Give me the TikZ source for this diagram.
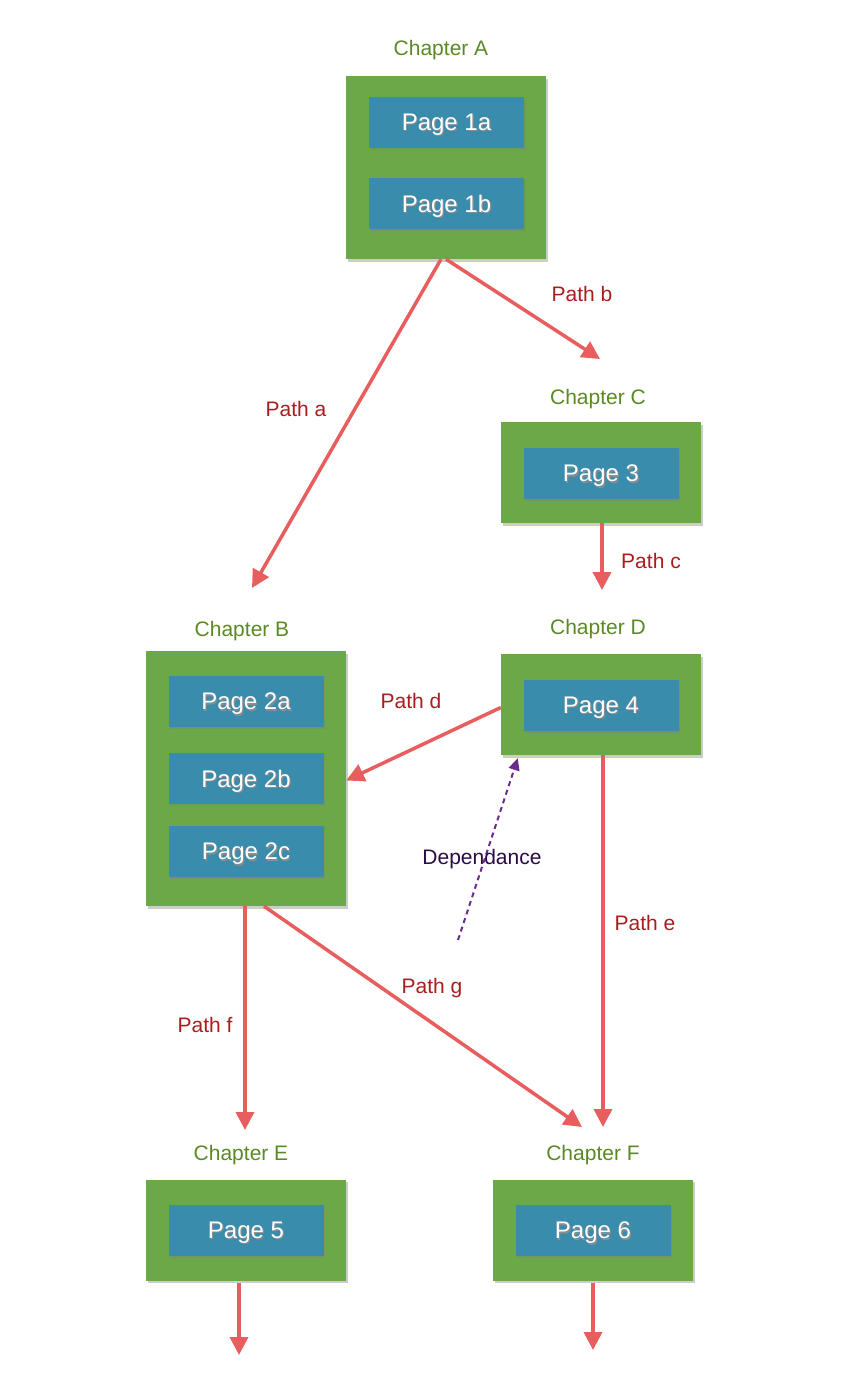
\documentclass[tikz,border=0pt]{standalone}
\usepackage{fontspec}
\setmainfont{Liberation Sans}
\usetikzlibrary{arrows.meta,shadows,calc}
\definecolor{chgreen}{HTML}{6BA847}
\definecolor{pgblue}{HTML}{3A8CAD}
\definecolor{lblgreen}{HTML}{5A8A24}
\definecolor{arrred}{HTML}{E85D5D}
\definecolor{pathred}{HTML}{A81E1E}
\definecolor{deppurple}{HTML}{6A2C8C}
\definecolor{deptext}{HTML}{2A0A45}
\newcommand{\shtext}[1]{\makebox[0pt][l]{\raisebox{-1.2pt}{\hspace{1.2pt}\color{black!45}#1}}#1}
\begin{document}
\begin{tikzpicture}[x=1pt,y=-1pt,
  chapbox/.style={fill=chgreen,draw=none,inner sep=0,minimum width=200pt,
    drop shadow={shadow xshift=2pt,shadow yshift=-2.5pt,opacity=0.4}},
  pagebox/.style={fill=pgblue,draw=none,inner sep=0,minimum width=155pt,minimum height=51pt,
    text=white,font=\fontsize{24}{24}\selectfont,text depth=0pt,
    drop shadow={shadow xshift=1.5pt,shadow yshift=-2pt,opacity=0.4}},
  chaplabel/.style={text=lblgreen,font=\fontsize{21}{21}\selectfont,inner sep=0},
  pathlabel/.style={text=pathred,font=\fontsize{21}{21}\selectfont,inner sep=0},
  flow/.style={draw=arrred,line width=3.5pt,-{Triangle[length=18pt,width=18pt]}},
  dep/.style={draw=deppurple,line width=2pt,dash pattern=on 5pt off 4pt,-{Triangle[length=12pt,width=11pt]}}]
\useasboundingbox (0,0) rectangle (858,1374);

% Chapter A
\node[chaplabel] (labA) at (441,50) {Chapter A};
\node[chapbox,minimum height=183pt] (chA) at (446,167.5) {};
\node[pagebox] (p1a) at (446.5,122.5) {\shtext{Page 1a}};
\node[pagebox] (p1b) at (446.5,203.5) {\shtext{Page 1b}};

% Chapter C
\node[chaplabel] (labC) at (598,399) {Chapter C};
\node[chapbox,minimum height=101pt] (chC) at (601,472.5) {};
\node[pagebox] (p3) at (601,473.5) {\shtext{Page 3}};

% Chapter B
\node[chaplabel] (labB) at (242,631) {Chapter B};
\node[chapbox,minimum height=255pt] (chB) at (246,778.5) {};
\node[pagebox] (p2a) at (246,701.5) {\shtext{Page 2a}};
\node[pagebox] (p2b) at (246,778.5) {\shtext{Page 2b}};
\node[pagebox] (p2c) at (246,851.5) {\shtext{Page 2c}};

% Chapter D
\node[chaplabel] (labD) at (598,629) {Chapter D};
\node[chapbox,minimum height=101pt] (chD) at (601,704.5) {};
\node[pagebox] (p4) at (601,705.5) {\shtext{Page 4}};

% Chapter E
\node[chaplabel] (labE) at (241,1155) {Chapter E};
\node[chapbox,minimum height=101pt] (chE) at (246,1230) {};
\node[pagebox] (p5) at (246,1230.5) {\shtext{Page 5}};

% Chapter F
\node[chaplabel] (labF) at (593,1155) {Chapter F};
\node[chapbox,minimum height=101pt] (chF) at (593,1230) {};
\node[pagebox] (p6) at (593,1230.5) {\shtext{Page 6}};

% free ends
\coordinate (aEnd) at (252,588);
\coordinate (bEnd) at (600,359);
\coordinate (cEnd) at (602,590);
\coordinate (eEnd) at (603,1127);
\coordinate (fEnd) at (245,1130);
\coordinate (gEnd) at (582,1127);
\coordinate (depStart) at (458,940);
\coordinate (eOut) at (239,1355);
\coordinate (fOut) at (593,1350);

% connectors
\draw[flow] ([xshift=-5pt]chA.south) -- (aEnd);
\draw[flow] (chA.south) -- (bEnd);
\draw[flow] ([xshift=1pt]chC.south) -- (cEnd);
\draw[flow] ([yshift=-3pt]chD.west) -- ([yshift=-2pt]chB.east);
\draw[flow] ([xshift=2pt]chD.south) -- (eEnd);
\draw[flow] ([xshift=-1pt]chB.south) -- (fEnd);
\draw[flow] ([xshift=18pt]chB.south) -- (gEnd);
\draw[dep] (depStart) -- ([xshift=17pt,yshift=-3pt]chD.south west);
\draw[flow] ([xshift=-7pt,yshift=-2pt]chE.south) -- (eOut);
\draw[flow] ([yshift=-2pt]chF.south) -- (fOut);

% labels
\node[pathlabel] (la) at (296,409) {Path a};
\node[pathlabel] (lb) at (582,294) {Path b};
\node[pathlabel] (lc) at (651,561) {Path c};
\node[pathlabel] (ld) at (411,701) {Path d};
\node[pathlabel] (le) at (645,923) {Path e};
\node[pathlabel] (lf) at (205,1025) {Path f};
\node[pathlabel] (lg) at (432,988) {Path g};
\node[text=deptext,font=\fontsize{21}{21}\selectfont,inner sep=0] (ldep) at (482,859) {Dependance};
\end{tikzpicture}
\end{document}
